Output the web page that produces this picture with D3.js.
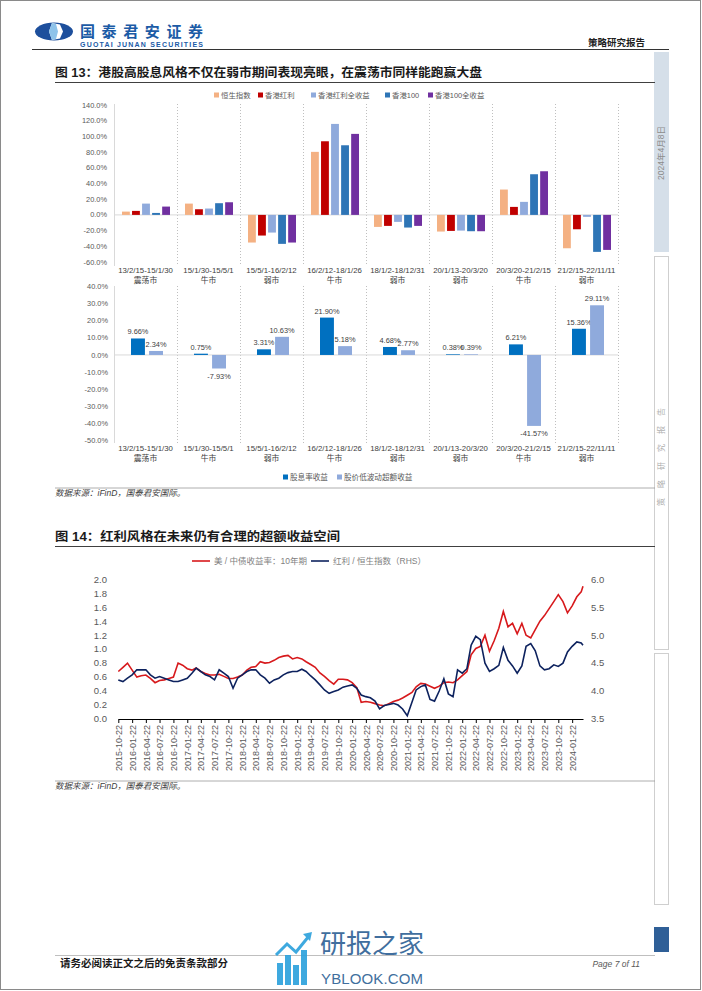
<!DOCTYPE html>
<html>
<head>
<meta charset="utf-8">
<script src="https://cdn.jsdelivr.net/npm/d3@7"></script>
<style>
  body { margin: 0; background: #fff; }
  text { font-family: "Liberation Sans", "Noto Sans CJK SC", sans-serif; }
</style>
</head>
<body>
<div id="page"></div>
<script>
// ---- figure 13, top panel: index returns by market period (%)
var periods = ["13/2/15-15/1/30", "15/1/30-15/5/1", "15/5/1-16/2/12", "16/2/12-18/1/26",
               "18/1/2-18/12/31", "20/1/13-20/3/20", "20/3/20-21/2/15", "21/2/15-22/11/11"];
var regimes = ["震荡市", "牛市", "弱市", "牛市", "弱市", "弱市", "牛市", "弱市"];
var indexNames = ["恒生指数", "香港红利", "香港红利全收益", "香港100", "香港100全收益"];
var hsi      = [4.2, 14.4, -35.2, 80.3, -15.3, -21.2, 32.3, -42.5];
var hkDiv    = [5.1, 7.2, -26.3, 93.8, -14.0, -20.4, 10.2, -18.3];
var hkDivTR  = [14.4, 8.1, -22.5, 115.9, -8.9, -20.0, 16.6, -2.5];
var hk100    = [2.5, 14.9, -36.9, 88.7, -16.1, -20.8, 51.8, -47.1];
var hk100TR  = [10.6, 16.1, -35.2, 103.2, -14.0, -20.8, 55.6, -44.6];
var topTicks = [-60, -40, -20, 0, 20, 40, 60, 80, 100, 120, 140];

// ---- figure 13, bottom panel: return decomposition (%)
var partNames = ["股息率收益", "股价低波动超额收益"];
var dividendYield = [9.66, 0.75, 3.31, 21.90, 4.68, 0.38, 6.21, 15.36];
var lowVolExcess  = [2.34, -7.93, 10.63, 5.18, 2.77, 0.39, -41.57, 29.11];
var bottomTicks = [-50, -40, -30, -20, -10, 0, 10, 20, 30, 40];

// ---- figure 14: monthly readings from 2015-10-22, last point 2024-04-03
var lineStart = "2015-10-22";
var lineLast = "2024-04-03";
var yieldRatio = [
  0.68, 0.74, 0.80, 0.70, 0.60, 0.62, 0.63, 0.58, 0.52, 0.55, 0.56, 0.58,
  0.60, 0.80, 0.77, 0.72, 0.70, 0.73, 0.68, 0.65, 0.63, 0.63, 0.64, 0.61,
  0.58, 0.58, 0.60, 0.63, 0.70, 0.74, 0.75, 0.82, 0.80, 0.81, 0.84, 0.88,
  0.90, 0.91, 0.86, 0.88, 0.86, 0.82, 0.78, 0.74, 0.66, 0.61, 0.55, 0.50,
  0.57, 0.57, 0.56, 0.52, 0.45, 0.24, 0.25, 0.24, 0.22, 0.20, 0.19, 0.22,
  0.25, 0.27, 0.30, 0.34, 0.38, 0.46, 0.51, 0.50, 0.47, 0.44, 0.47, 0.52,
  0.53, 0.52, 0.56, 0.62, 0.68, 0.92, 1.01, 1.04, 1.20, 0.97, 1.12, 1.30,
  1.54, 1.32, 1.37, 1.22, 1.37, 1.20, 1.16, 1.28, 1.40, 1.48, 1.58, 1.68,
  1.78, 1.68, 1.52, 1.62, 1.75, 1.82, 1.90];
var divVsHsi = [
  4.20, 4.17, 4.23, 4.29, 4.38, 4.38, 4.38, 4.29, 4.23, 4.26, 4.23, 4.20,
  4.17, 4.17, 4.20, 4.23, 4.32, 4.41, 4.35, 4.29, 4.26, 4.20, 4.38, 4.32,
  4.26, 4.05, 4.23, 4.29, 4.35, 4.38, 4.38, 4.29, 4.23, 4.14, 4.20, 4.23,
  4.29, 4.33, 4.35, 4.35, 4.39, 4.35, 4.27, 4.20, 4.11, 4.02, 3.96, 3.99,
  4.02, 4.07, 4.09, 4.11, 4.05, 3.93, 3.90, 3.88, 3.82, 3.68, 3.74, 3.76,
  3.78, 3.75, 3.68, 3.56, 3.80, 4.02, 4.08, 4.11, 3.85, 3.82, 4.00, 4.22,
  3.95, 3.90, 4.38, 4.32, 4.40, 4.82, 4.98, 4.92, 4.50, 4.35, 4.40, 4.46,
  4.78, 4.55, 4.45, 4.32, 4.45, 4.80, 4.85, 4.72, 4.45, 4.38, 4.40, 4.47,
  4.44, 4.50, 4.70, 4.80, 4.88, 4.86, 4.82];
var leftTicks = [0, 0.2, 0.4, 0.6, 0.8, 1.0, 1.2, 1.4, 1.6, 1.8, 2.0];
var rightTicks = [3.5, 4.0, 4.5, 5.0, 5.5, 6.0];
var lineNames = ["美 / 中债收益率：10年期", "红利 / 恒生指数（RHS）"];

var idxColors = ["#f4b183", "#c00000", "#8faadc", "#2e75b6", "#7030a0"];
var partColors = ["#0070c0", "#8faadc"];
var grayTxt = "#595959";

var svg = d3.select("#page").append("svg")
  .attr("width", 702)
  .attr("height", 991);

svg.append("rect").attr("width", 702).attr("height", 991).attr("fill", "#fff");

// ---------- header
var logo = svg.append("g");
logo.append("ellipse").attr("cx", 54).attr("cy", 31.5).attr("rx", 19).attr("ry", 9).attr("fill", "#1d4f9c");
logo.append("path").attr("d", "M52,23 L60,24.5 L63,31.5 L60,38.5 L52,40 L49,31.5 Z").attr("fill", "#fff");
logo.append("path").attr("d", "M52,23 L56,24 L58,31.5 L56,39 L52,40 L49,31.5 Z").attr("fill", "#8ec3ea");
svg.append("text").attr("x", 80).attr("y", 37)
  .attr("font-size", 15).attr("font-weight", "bold").attr("fill", "#1b5ba6")
  .attr("font-family", "Noto Sans CJK SC").attr("textLength", 123)
  .text("国泰君安证券");
svg.append("text").attr("x", 80).attr("y", 46.5)
  .attr("font-size", 7).attr("font-weight", "bold").attr("fill", "#1b5ba6")
  .attr("textLength", 123)
  .text("GUOTAI JUNAN SECURITIES");
svg.append("text").attr("x", 645).attr("y", 46).attr("text-anchor", "end")
  .attr("font-size", 9.5).attr("font-weight", "bold").attr("fill", "#1f1f1f")
  .text("策略研究报告");
svg.append("line").attr("x1", 32).attr("x2", 669).attr("y1", 49.5).attr("y2", 49.5)
  .attr("stroke", "#333").attr("stroke-width", 1.2);

// ---------- right side strip
svg.append("rect").attr("x", 654).attr("y", 52).attr("width", 15).attr("height", 200).attr("fill", "#d5dfe9");
svg.append("text").attr("transform", "translate(664,153) rotate(-90)").attr("text-anchor", "middle")
  .attr("font-size", 8.5).attr("fill", "#8c8c8c").text("2024年4月8日");
svg.append("rect").attr("x", 654.5).attr("y", 256.5).attr("width", 14).attr("height", 393)
  .attr("fill", "#fff").attr("stroke", "#cfcfcf");
svg.append("text").attr("transform", "translate(664,452) rotate(-90)").attr("text-anchor", "middle")
  .attr("font-size", 8).attr("fill", "#b0b0b0").attr("letter-spacing", 10).text("策略研究报告");
svg.append("rect").attr("x", 654.5).attr("y", 653.5).attr("width", 14).attr("height", 251)
  .attr("fill", "#fff").attr("stroke", "#cfcfcf");
svg.append("rect").attr("x", 654).attr("y", 927).attr("width", 15).attr("height", 25).attr("fill", "#2f5f97");

// ---------- figure titles / sources
function figTitle(y, txt, len) {
  svg.append("text").attr("x", 55).attr("y", y)
    .attr("font-size", 12.5).attr("font-weight", "bold").attr("fill", "#1a1a1a")
    .attr("font-family", "Noto Sans CJK SC")
    .attr("textLength", len).attr("lengthAdjust", "spacingAndGlyphs")
    .text(txt);
  svg.append("line").attr("x1", 55).attr("x2", 655).attr("y1", y + 5.5).attr("y2", y + 5.5)
    .attr("stroke", "#404040").attr("stroke-width", 1);
}
function source(y) {
  svg.append("line").attr("x1", 55).attr("x2", 655).attr("y1", y - 8).attr("y2", y - 8)
    .attr("stroke", "#999").attr("stroke-width", 0.8);
  svg.append("text").attr("x", 55).attr("y", y)
    .attr("font-size", 8.5).attr("font-style", "italic").attr("fill", "#404040")
    .text("数据来源：iFinD，国泰君安国际。");
}
figTitle(77, "图 13：港股高股息风格不仅在弱市期间表现亮眼，在震荡市同样能跑赢大盘", 427);
figTitle(541, "图 14：红利风格在未来仍有合理的超额收益空间", 285);
source(496);
source(789);

// ---------- figure 13 top panel
var x0 = d3.scaleBand().domain(periods).range([114, 618]);
var x1 = d3.scaleBand().domain(indexNames).range([8, 56]).paddingInner(0.22);
var yTop = d3.scaleLinear().domain([-60, 140]).range([262, 105]);
var idxSeries = [hsi, hkDiv, hkDivTR, hk100, hk100TR];

function grid(y0, y1) {
  periods.forEach(function(p, i) {
    svg.append("line").attr("x1", x0(p) + 0.5).attr("x2", x0(p) + 0.5)
      .attr("y1", y0).attr("y2", y1)
      .attr("stroke", i === 0 ? "#d9d9d9" : "#bfbfbf")
      .attr("stroke-dasharray", i === 0 ? null : "1,2");
  });
  svg.append("line").attr("x1", 618.5).attr("x2", 618.5).attr("y1", y0).attr("y2", y1)
    .attr("stroke", "#bfbfbf").attr("stroke-dasharray", "1,2");
}
function catLabels(y) {
  var g = svg.append("g");
  periods.forEach(function(p, i) {
    var cx = x0(p) + x0.bandwidth() / 2;
    g.append("text").attr("x", cx).attr("y", y).attr("text-anchor", "middle")
      .attr("font-size", 7.8).attr("fill", "#404040").text(p);
    g.append("text").attr("x", cx).attr("y", y + 10).attr("text-anchor", "middle")
      .attr("font-size", 7.8).attr("fill", "#404040").text(regimes[i]);
  });
}

grid(104, 266);
svg.append("line").attr("x1", 114).attr("x2", 618).attr("y1", yTop(0)).attr("y2", yTop(0)).attr("stroke", "#d9d9d9");

svg.append("g").selectAll("text").data(topTicks).enter().append("text")
  .attr("x", 107).attr("y", function(d) { return yTop(d); }).attr("dy", "0.35em")
  .attr("text-anchor", "end").attr("font-size", 7.4).attr("fill", grayTxt)
  .text(function(d) { return d.toFixed(1) + "%"; });

idxSeries.forEach(function(vals, k) {
  svg.append("g").selectAll("rect").data(vals).enter().append("rect")
    .attr("x", function(d, i) { return x0(periods[i]) + x1(indexNames[k]); })
    .attr("width", x1.bandwidth())
    .attr("y", function(d) { return yTop(Math.max(0, d)); })
    .attr("height", function(d) { return Math.abs(yTop(d) - yTop(0)); })
    .attr("fill", idxColors[k]);
});
catLabels(273);

// legend (top)
var legTop = [214, 258, 311, 385, 428];
indexNames.forEach(function(n, k) {
  svg.append("rect").attr("x", legTop[k]).attr("y", 92.5).attr("width", 5).attr("height", 5).attr("fill", idxColors[k]);
  svg.append("text").attr("x", legTop[k] + 7).attr("y", 95).attr("dy", "0.35em")
    .attr("font-size", 7.4).attr("fill", grayTxt).text(n);
});

// ---------- figure 13 bottom panel
var yBot = d3.scaleLinear().domain([-50, 40]).range([440.3, 286.7]);
var x2 = d3.scaleBand().domain(partNames).range([17, 49]).paddingInner(0.23);
var partSeries = [dividendYield, lowVolExcess];

grid(286, 443);
svg.append("line").attr("x1", 114).attr("x2", 618).attr("y1", yBot(0)).attr("y2", yBot(0)).attr("stroke", "#d9d9d9");

svg.append("g").selectAll("text").data(bottomTicks).enter().append("text")
  .attr("x", 108).attr("y", function(d) { return yBot(d); }).attr("dy", "0.35em")
  .attr("text-anchor", "end").attr("font-size", 7.4).attr("fill", grayTxt)
  .text(function(d) { return d.toFixed(1) + "%"; });

partSeries.forEach(function(vals, k) {
  var g = svg.append("g");
  g.selectAll("rect").data(vals).enter().append("rect")
    .attr("x", function(d, i) { return x0(periods[i]) + x2(partNames[k]); })
    .attr("width", x2.bandwidth())
    .attr("y", function(d) { return yBot(Math.max(0, d)); })
    .attr("height", function(d) { return Math.abs(yBot(d) - yBot(0)); })
    .attr("fill", partColors[k]);
  g.selectAll("text").data(vals).enter().append("text")
    .attr("x", function(d, i) { return x0(periods[i]) + x2(partNames[k]) + x2.bandwidth() / 2; })
    .attr("y", function(d) { return d >= 0 ? yBot(d) - 4 : yBot(d) + 10; })
    .attr("text-anchor", "middle").attr("font-size", 7.4).attr("fill", "#404040")
    .text(function(d) { return d.toFixed(2) + "%"; });
});
catLabels(451);

var legBot = [283, 337];
partNames.forEach(function(n, k) {
  svg.append("rect").attr("x", legBot[k]).attr("y", 474.5).attr("width", 5).attr("height", 5).attr("fill", partColors[k]);
  svg.append("text").attr("x", legBot[k] + 7).attr("y", 477).attr("dy", "0.35em")
    .attr("font-size", 7.6).attr("fill", grayTxt).text(n);
});

// ---------- figure 14 line chart
var start = d3.timeParse("%Y-%m-%d")(lineStart);
var last = d3.timeParse("%Y-%m-%d")(lineLast);
var dates = yieldRatio.map(function(d, i) {
  return i < yieldRatio.length - 1 ? d3.timeMonth.offset(start, i) : last;
});
var xT = d3.scaleTime().domain([start, last]).range([118.3, 583]);
var yL = d3.scaleLinear().domain([0, 2]).range([719, 579.3]);
var yR = d3.scaleLinear().domain([3.5, 6]).range([719, 579.3]);

var quarterTicks = d3.range(34).map(function(i) { return d3.timeMonth.offset(start, 3 * i); });
var xAxis = svg.append("g").attr("transform", "translate(0,719)")
  .call(d3.axisBottom(xT).tickValues(quarterTicks).tickSize(4).tickSizeOuter(0)
    .tickFormat(d3.timeFormat("%Y-%m-%d")));
xAxis.select(".domain").attr("stroke", "#000");
xAxis.selectAll(".tick line").attr("stroke", "#000");
xAxis.selectAll("text")
  .attr("transform", "rotate(-90)")
  .attr("text-anchor", "end")
  .attr("x", -6).attr("y", 0).attr("dy", "0.35em")
  .attr("font-size", 9).attr("fill", grayTxt)
  .attr("font-family", "Liberation Sans");

svg.append("g").selectAll("text").data(leftTicks).enter().append("text")
  .attr("x", 107).attr("y", function(d) { return yL(d); }).attr("dy", "0.35em")
  .attr("text-anchor", "end").attr("font-size", 9.5).attr("fill", grayTxt)
  .text(function(d) { return d.toFixed(1); });
svg.append("g").selectAll("text").data(rightTicks).enter().append("text")
  .attr("x", 591).attr("y", function(d) { return yR(d); }).attr("dy", "0.35em")
  .attr("font-size", 9.5).attr("fill", grayTxt)
  .text(function(d) { return d.toFixed(1); });

var redLine = d3.line().x(function(d, i) { return xT(dates[i]); }).y(function(d) { return yL(d); });
var navyLine = d3.line().x(function(d, i) { return xT(dates[i]); }).y(function(d) { return yR(d); });
svg.append("path").datum(yieldRatio).attr("d", redLine)
  .attr("fill", "none").attr("stroke", "#d7191c").attr("stroke-width", 1.6);
svg.append("path").datum(divVsHsi).attr("d", navyLine)
  .attr("fill", "none").attr("stroke", "#0d225e").attr("stroke-width", 1.6);

// legend (line chart)
var legLine = [[192, "#d7191c"], [311, "#0d225e"]];
lineNames.forEach(function(n, k) {
  svg.append("line").attr("x1", legLine[k][0]).attr("x2", legLine[k][0] + 18)
    .attr("y1", 561).attr("y2", 561).attr("stroke", legLine[k][1]).attr("stroke-width", 1.6);
  svg.append("text").attr("x", legLine[k][0] + 22).attr("y", 561).attr("dy", "0.35em")
    .attr("font-size", 8.5).attr("fill", "#7f7f7f").text(n);
});

// ---------- footer
svg.append("line").attr("x1", 55).attr("x2", 655).attr("y1", 955.5).attr("y2", 955.5)
  .attr("stroke", "#bfbfbf").attr("stroke-width", 1.2);
svg.append("text").attr("x", 60).attr("y", 967)
  .attr("font-size", 10.5).attr("font-weight", "bold").attr("fill", "#1a1a1a")
  .attr("font-family", "Noto Sans CJK SC").text("请务必阅读正文之后的免责条款部分");
svg.append("text").attr("x", 640).attr("y", 967).attr("text-anchor", "end")
  .attr("font-size", 8.5).attr("font-style", "italic").attr("fill", grayTxt)
  .text("Page 7 of 11");

// watermark
var wm = svg.append("g").attr("opacity", 0.9);
[[277, 963, 6, 22], [285, 955, 6, 30], [293, 965, 6, 20], [301, 950, 6, 35]].forEach(function(b) {
  wm.append("rect").attr("x", b[0]).attr("y", b[1]).attr("width", b[2]).attr("height", b[3]).attr("fill", "#2aa0dc");
});
wm.append("path").attr("d", "M276,955 L287,944 L296,952 L309,936").attr("fill", "none")
  .attr("stroke", "#2aa0dc").attr("stroke-width", 3);
wm.append("path").attr("d", "M303,934 L312,932 L310,941 Z").attr("fill", "#2aa0dc");
wm.append("text").attr("x", 320).attr("y", 953).attr("font-size", 26)
  .attr("font-family", "Noto Sans CJK SC").attr("fill", "#2c5f94").text("研报之家");
wm.append("text").attr("x", 321).attr("y", 984).attr("font-size", 15)
  .attr("fill", "#2c5f94").attr("textLength", 102).text("YBLOOK.COM");

// page border
svg.append("rect").attr("x", 0.5).attr("y", 0.5).attr("width", 700).attr("height", 989)
  .attr("fill", "none").attr("stroke", "#8a8a8a");
</script>
</body>
</html>
